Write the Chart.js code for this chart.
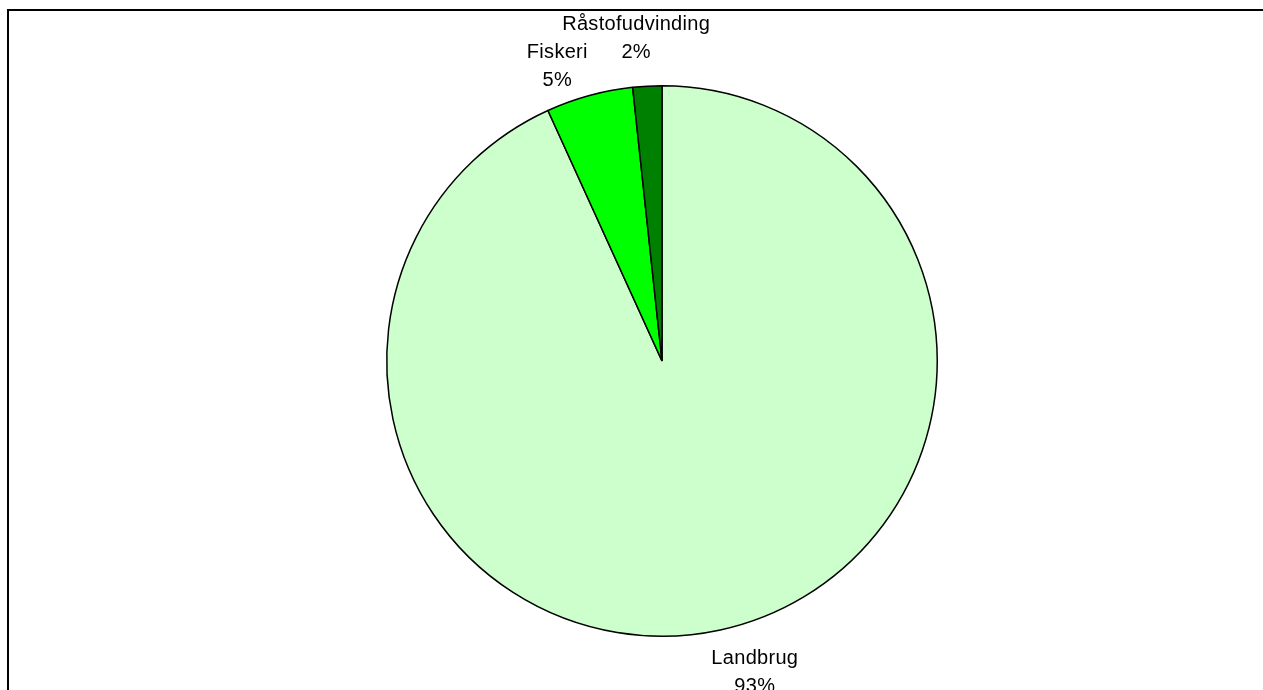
<!DOCTYPE html>
<html>
<head>
<meta charset="utf-8">
<script src="https://cdn.jsdelivr.net/npm/chart.js@4.4.1/dist/chart.umd.min.js"></script>
<style>
    html, body { margin: 0; padding: 0; background: #ffffff; overflow: hidden; }
    #wrap { position: relative; width: 1263px; height: 690px; }
</style>
</head>
<body>
<div id="wrap"><canvas id="pieChart" width="1263" height="690"></canvas></div>
<script>
// Fordeling: Landbrug / Fiskeri / Råstofudvinding
const labels = ['Landbrug', 'Fiskeri', 'Råstofudvinding'];
const values = [93.2, 5.1, 1.7];
const colors = ['#CCFFCC', '#00FF00', '#008000'];

// small nudges (px) for the outside labels, same order as labels
const labelNudge = [[26, 3.5], [-21.5, 10], [-9, -7.5]];

const frameAndLabels = {
    id: 'frameAndLabels',
    beforeDraw(chart) {
        const ctx = chart.ctx;
        ctx.save();
        ctx.strokeStyle = '#000000';
        ctx.lineWidth = 2;
        ctx.strokeRect(8, 10, 3000, 3000);
        ctx.restore();
    },
    afterDatasetsDraw(chart) {
        const ctx = chart.ctx;
        const meta = chart.getDatasetMeta(0);
        const total = values.reduce((a, b) => a + b, 0);
        ctx.save();
        ctx.font = '20px "Liberation Sans", Arial, sans-serif';
        ctx.letterSpacing = '0.3px';
        ctx.fillStyle = '#000000';
        ctx.textAlign = 'center';
        ctx.textBaseline = 'middle';
        meta.data.forEach((arc, i) => {
            const p = arc.getProps(['x', 'y', 'startAngle', 'endAngle', 'outerRadius'], true);
            const mid = (p.startAngle + p.endAngle) / 2;
            const d = p.outerRadius + 40;
            const x = p.x + Math.cos(mid) * d + labelNudge[i][0];
            const y = p.y + Math.sin(mid) * d + labelNudge[i][1];
            const pct = Math.round(values[i] / total * 100) + '%';
            ctx.fillText(labels[i], x, y - 14);
            ctx.fillText(pct, x, y + 14);
        });
        ctx.restore();
    }
};

const ctx = document.getElementById('pieChart').getContext('2d');
new Chart(ctx, {
    type: 'pie',
    data: {
        labels: labels,
        datasets: [{
            data: values,
            backgroundColor: colors,
            borderColor: '#000000',
            borderWidth: 1.5,
            borderAlign: 'center'
        }]
    },
    options: {
        responsive: false,
        animation: false,
        devicePixelRatio: 1,
        layout: { padding: { left: 61, right: 0, top: 85, bottom: 53 } },
        plugins: {
            legend: { display: false },
            tooltip: { enabled: false }
        }
    },
    plugins: [frameAndLabels]
});
</script>
</body>
</html>
